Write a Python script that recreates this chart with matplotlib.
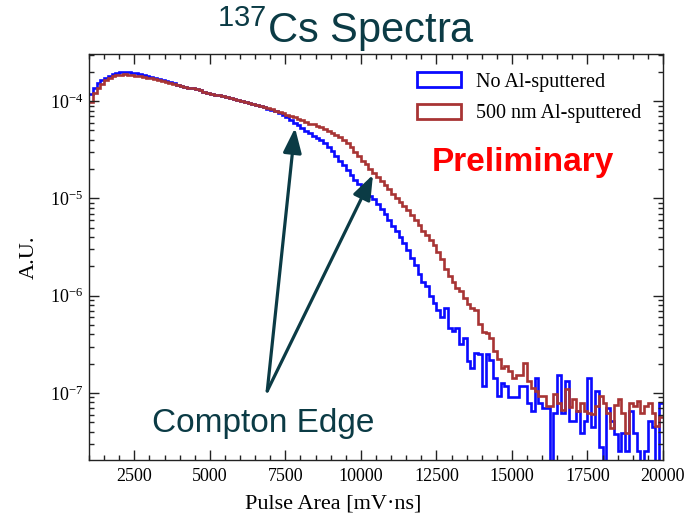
import numpy as np
import matplotlib
matplotlib.use('Agg')
import matplotlib.pyplot as plt
from matplotlib.patches import Patch
from matplotlib.ticker import MultipleLocator, LogLocator

# histogram binning (mV*ns)
bin_lo = 1000
bin_hi = 20000
bin_w = 125

# log10(A.U.) per bin, None = empty bin
no_al = [
    -3.93, -3.86, -3.81, -3.78, -3.76, -3.74, -3.72, -3.71, -3.70, -3.70,
    -3.70, -3.71, -3.71, -3.72, -3.73, -3.74, -3.75, -3.76, -3.77, -3.78,
    -3.79, -3.80, -3.81, -3.83, -3.84, -3.85, -3.86, -3.87, -3.88, -3.89,
    -3.91, -3.92, -3.93, -3.94, -3.94, -3.95, -3.96, -3.97, -3.98, -3.99,
    -4.00, -4.01, -4.02, -4.03, -4.04, -4.05, -4.06, -4.08, -4.09, -4.10,
    -4.12, -4.14, -4.16, -4.19, -4.22, -4.25, -4.28, -4.31, -4.33, -4.36,
    -4.38, -4.40, -4.43, -4.47, -4.51, -4.56, -4.61, -4.66, -4.71, -4.76,
    -4.81, -4.85, -4.89, -4.93, -4.97, -5.01, -5.06, -5.11, -5.16, -5.22,
    -5.28, -5.33, -5.40, -5.46, -5.53, -5.61, -5.68, -5.78, -5.86, -5.90,
    -6.00, -6.07, -6.15, -6.22, -6.13, -6.33, -6.36, -6.33, -6.50, -6.43,
    -6.67, -6.74, -6.59, -6.60, -6.93, -6.60, -6.66, -6.85, -7.03, -6.90,
    -6.93, -7.04, -7.04, -7.04, -6.93, -6.93, -7.10, -7.18, -6.85, -7.10,
    -7.15, -7.15, None, -7.21, -6.81, -7.21, -6.88, -7.29, -7.29, -7.18,
    -7.41, -7.29, -6.85, -7.35, -6.98, -7.55, None, -7.15, -7.29, -7.42,
    -7.60, -7.41, -7.60, -7.18, -7.41, -7.60, None, -7.60, -7.29, -7.35,
    None, -7.10,
]

al_500nm = [
    -4.01, -3.92, -3.86, -3.82, -3.78, -3.76, -3.74, -3.73, -3.73, -3.72,
    -3.73, -3.73, -3.74, -3.74, -3.75, -3.76, -3.76, -3.77, -3.78, -3.79,
    -3.80, -3.81, -3.82, -3.83, -3.84, -3.85, -3.86, -3.87, -3.88, -3.89,
    -3.91, -3.92, -3.93, -3.94, -3.94, -3.95, -3.96, -3.97, -3.98, -3.99,
    -4.00, -4.01, -4.02, -4.03, -4.04, -4.05, -4.06, -4.07, -4.08, -4.10,
    -4.11, -4.12, -4.14, -4.15, -4.16, -4.18, -4.19, -4.21, -4.23, -4.24,
    -4.26, -4.27, -4.29, -4.31, -4.33, -4.35, -4.37, -4.40, -4.43, -4.47,
    -4.52, -4.56, -4.61, -4.65, -4.70, -4.74, -4.78, -4.82, -4.86, -4.90,
    -4.95, -5.00, -5.04, -5.08, -5.12, -5.17, -5.22, -5.27, -5.33, -5.38,
    -5.43, -5.48, -5.55, -5.62, -5.72, -5.80, -5.86, -5.92, -5.95, -6.02,
    -6.08, -6.13, -6.15, -6.29, -6.37, -6.38, -6.43, -6.57, -6.65, -6.74,
    -6.72, -6.77, -6.85, -6.81, -6.81, -6.69, -6.88, -6.95, -6.98, -7.03,
    -7.03, -7.13, -7.13, -7.01, -7.10, -7.17, -6.96, -7.14, -7.06, -7.18,
    -7.10, -7.18, -7.20, -7.22, -7.13, -7.03, -7.10, -7.20, -7.36, -7.12,
    -7.06, -7.20, -7.41, -7.10, -7.13, -7.08, -7.20, -7.13, -7.10, -7.20,
    -7.34, -7.25,
]

labels = ['No Al-sputtered', '500 nm Al-sputtered']
colors = ['#0a0aff', '#a83434']

# compton edge arrows: tail and tips (data coords)
arrow_tail = (6900, 1.05e-7)
arrow_tips = [(7820, 5.3e-5), (10400, 1.75e-5)]

teal = '#0b3b45'

plt.rcParams['font.family'] = ['Liberation Serif', 'DejaVu Serif']
plt.rcParams['mathtext.fontset'] = 'custom'
plt.rcParams['mathtext.rm'] = 'Liberation Serif'
plt.rcParams['mathtext.sf'] = 'Liberation Sans'


def to_counts(vals):
    return np.array([10.0 ** v if v is not None else 1e-12 for v in vals])


edges = np.arange(bin_lo, bin_hi + bin_w, bin_w)

fig = plt.figure(figsize=(6.97, 5.16), dpi=100)
ax = fig.add_axes([0.1277, 0.1085, 0.8235, 0.7868])

for vals, c in zip([no_al, al_500nm], colors):
    ax.stairs(to_counts(vals), edges, baseline=None, color=c, lw=1.9)

ax.set_yscale('log')
ax.set_xlim(bin_lo, bin_hi)
ax.set_ylim(2.05e-8, 3.05e-4)

ax.xaxis.set_major_locator(MultipleLocator(2500))
ax.xaxis.set_minor_locator(MultipleLocator(500))
ax.yaxis.set_major_locator(LogLocator(base=10, numticks=10))
ax.yaxis.set_minor_locator(LogLocator(base=10, subs=np.arange(2, 10), numticks=10))
ax.tick_params(which='both', direction='in', top=True, right=True, color='#222222', width=1)
ax.tick_params(which='major', length=7.5, labelsize=13, pad=6)
ax.tick_params(which='minor', length=3.8)
ax.tick_params(axis='y', which='major', pad=4)
for s in ax.spines.values():
    s.set_color('#222222')
    s.set_linewidth(1)

ax.set_xlabel('Pulse Area [mV\u00b7ns]', fontsize=16, labelpad=3)
ax.xaxis.set_label_coords(0.425, -0.085)
ax.set_ylabel('A.U.', fontsize=16, labelpad=8)

handles = [Patch(facecolor='none', edgecolor=c, lw=2) for c in colors]
ax.legend(handles, labels, loc='upper left', bbox_to_anchor=(0.571, 0.955), frameon=False,
          fontsize=14.5, handlelength=2.2, handleheight=0.75, handletextpad=0.75,
          labelspacing=0.6, borderpad=0, borderaxespad=0)

ax.text(0.756, 0.732, 'Preliminary', transform=ax.transAxes, ha='center', va='center',
        color='#ff0000', fontsize=24, fontweight='bold', family=['Liberation Sans'])

ax.text(0.303, 0.089, 'Compton Edge', transform=ax.transAxes, ha='center', va='center',
        color=teal, fontsize=24, family=['Liberation Sans'])

for tip in arrow_tips:
    ax.annotate('', xy=tip, xytext=arrow_tail, xycoords='data', textcoords='data',
                arrowprops=dict(arrowstyle='-|>,head_length=0.75,head_width=0.28',
                                mutation_scale=20, color=teal, lw=2.3,
                                shrinkA=0, shrinkB=0))

fig.text(0.496, 0.9167, r'$\mathsf{^{137}}$Cs Spectra', ha='center', va='baseline',
         color=teal, fontsize=30, family=['Liberation Sans'])

plt.savefig('out.png', dpi=100)
